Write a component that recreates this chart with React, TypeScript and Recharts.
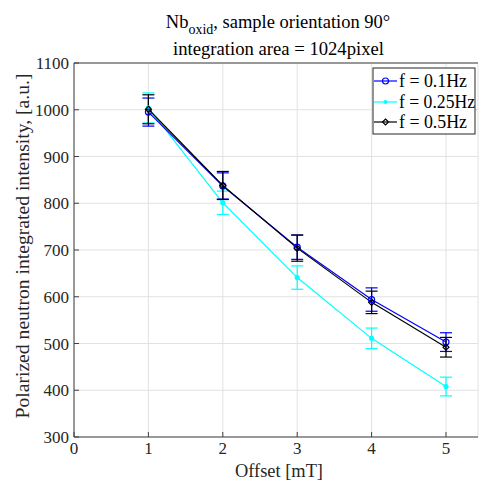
import React from 'react';
import { LineChart, Line, XAxis, YAxis, CartesianGrid, ErrorBar, ReferenceLine } from 'recharts';

const offsets = [1, 2, 3, 4, 5];
const f01 = [995, 837, 706, 594, 503];
const f01Err = [30, 28, 26, 25, 20];
const f025 = [1004, 801, 641, 511, 408];
const f025Err = [32, 25, 25, 22, 20];
const f05 = [1001, 838, 704, 588, 492];
const f05Err = [31, 30, 28, 24, 21];
const xTicks = [0, 1, 2, 3, 4, 5];
const yTicks = [300, 400, 500, 600, 700, 800, 900, 1000, 1100];
const seriesNames = ['f = 0.1Hz', 'f = 0.25Hz', 'f = 0.5Hz'];

const data = offsets.map((x, i) => ({
  x,
  a: f01[i], ae: f01Err[i],
  b: f025[i], be: f025Err[i],
  c: f05[i], ce: f05Err[i],
}));

const FONT = '"Liberation Serif", "DejaVu Serif", serif';

const Diamond = (props: any) => {
  const { cx, cy } = props;
  if (cx == null || cy == null) return null;
  const s = 3;
  return <path d={`M${cx},${cy - s}L${cx + s},${cy}L${cx},${cy + s}L${cx - s},${cy}Z`} fill="none" stroke="#000" strokeWidth={1.2} />;
};

export default function App() {
  return (
    <div style={{ position: 'absolute', left: 0, top: 0, width: 479, height: 485, background: '#fff' }}>
      <LineChart width={479} height={485} data={data} margin={{ top: 63, right: 1, left: 0, bottom: 0 }}>
        <CartesianGrid stroke="#e2e2e2" strokeWidth={1} vertical={true} horizontal={true} />
        <XAxis
          dataKey="x"
          type="number"
          domain={[0, 5.43]}
          ticks={xTicks}
          height={48}
          tickSize={-5}
          tickLine={{ stroke: '#404040' }}
          axisLine={{ stroke: '#404040', strokeWidth: 1 }}
          tick={{ fill: '#262626', fontSize: 17, fontFamily: FONT }}
          tickMargin={10}
        />
        <YAxis
          type="number"
          domain={[300, 1100]}
          ticks={yTicks}
          width={74}
          tickSize={-5}
          tickLine={{ stroke: '#404040' }}
          axisLine={{ stroke: '#404040', strokeWidth: 1 }}
          tick={{ fill: '#262626', fontSize: 17, fontFamily: FONT }}
          tickMargin={10}
          allowDataOverflow
        />
        <ReferenceLine y={1100} stroke="#404040" strokeWidth={1} />
        <Line dataKey="b" stroke="#00ffff" strokeWidth={1.2} isAnimationActive={false}
          dot={{ r: 2, fill: '#00ffff', stroke: '#00ffff' }}>
          <ErrorBar dataKey="be" width={6} stroke="#00ffff" strokeWidth={1.2} />
        </Line>
        <Line dataKey="a" stroke="#0000ff" strokeWidth={1.2} isAnimationActive={false}
          dot={{ r: 3, fill: 'none', stroke: '#0000ff', strokeWidth: 1.2 }}>
          <ErrorBar dataKey="ae" width={6} stroke="#0000ff" strokeWidth={1.2} />
        </Line>
        <Line dataKey="c" stroke="#000000" strokeWidth={1.2} isAnimationActive={false}
          dot={<Diamond />}>
          <ErrorBar dataKey="ce" width={6} stroke="#000000" strokeWidth={1.2} />
        </Line>
      </LineChart>
      <svg width={479} height={485} style={{ position: 'absolute', left: 0, top: 0, pointerEvents: 'none' }}>
        <text x={278} y={28} textAnchor="middle" fontFamily={FONT} fontSize={18.5} fill="#000">
          Nb<tspan dy={6} fontSize={14}>oxid</tspan><tspan dy={-6}>, sample orientation 90°</tspan>
        </text>
        <text x={278.5} y={55} textAnchor="middle" fontFamily={FONT} fontSize={18.5} fill="#000" textLength={211} lengthAdjust="spacingAndGlyphs">
          integration area = 1024pixel
        </text>
        <text x={279} y={477} textAnchor="middle" fontFamily={FONT} fontSize={18.5} fill="#262626" textLength={88} lengthAdjust="spacingAndGlyphs">
          Offset [mT]
        </text>
        <text x={0} y={0} transform="translate(29,246) rotate(-90)" textAnchor="middle" fontFamily={FONT} fontSize={18.5} fill="#262626" textLength={345} lengthAdjust="spacingAndGlyphs">
          Polarized neutron integrated intensity, [a.u.]
        </text>
        <g>
          <rect x={373} y={68} width={102} height={66} fill="#fff" stroke="#262626" strokeWidth={1} />
          <line x1={374} x2={397} y1={81} y2={81} stroke="#0000ff" strokeWidth={1.2} />
          <circle cx={385.5} cy={81} r={3} fill="none" stroke="#0000ff" strokeWidth={1.2} />
          <text x={399} y={87} fontFamily={FONT} fontSize={18.5} fill="#000" textLength={68} lengthAdjust="spacingAndGlyphs">{seriesNames[0]}</text>
          <line x1={374} x2={397} y1={102} y2={102} stroke="#00ffff" strokeWidth={1.2} />
          <circle cx={385.5} cy={102} r={2} fill="#00ffff" />
          <text x={399} y={108} fontFamily={FONT} fontSize={18.5} fill="#000" textLength={76} lengthAdjust="spacingAndGlyphs">{seriesNames[1]}</text>
          <line x1={374} x2={397} y1={122} y2={122} stroke="#000" strokeWidth={1.2} />
          <path d="M385.5,119L388.5,122L385.5,125L382.5,122Z" fill="none" stroke="#000" strokeWidth={1.2} />
          <text x={399} y={128} fontFamily={FONT} fontSize={18.5} fill="#000" textLength={68} lengthAdjust="spacingAndGlyphs">{seriesNames[2]}</text>
        </g>
      </svg>
    </div>
  );
}
